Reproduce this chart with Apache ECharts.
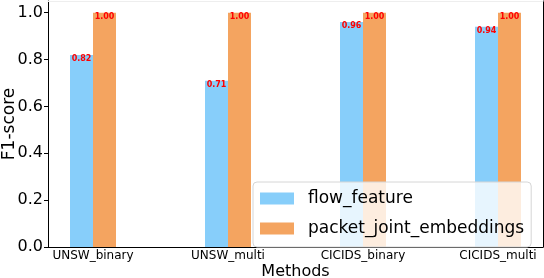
<!DOCTYPE html>
<html>
<head>
<meta charset="utf-8">
<script src="https://cdn.jsdelivr.net/npm/echarts@6/dist/echarts.min.js"></script>
<style>
  html, body { margin: 0; padding: 0; background: #fff; }
  #chart { width: 544px; height: 278px; }
</style>
</head>
<body>
<div id="chart"></div>
<script>
const categories = ['UNSW_binary', 'UNSW_multi', 'CICIDS_binary', 'CICIDS_multi'];
const flowFeature = [0.82, 0.71, 0.96, 0.94];
const packetJointEmbeddings = [1.00, 1.00, 1.00, 1.00];
const yTicks = [0.0, 0.2, 0.4, 0.6, 0.8, 1.0];
const seriesNames = ['flow_feature', 'packet_joint_embeddings'];

const FONT = 'DejaVu Sans';
const chart = echarts.init(document.getElementById('chart'), null, { renderer: 'canvas' });

const catIdx = categories.map((c, i) => i);
const toData = arr => arr.map((v, i) => [catIdx[i], v]);

const labelCfg = {
  show: true,
  position: 'insideTop',
  distance: 0,
  color: '#ff0000',
  fontFamily: FONT,
  fontWeight: 'bold',
  fontSize: 8,
  formatter: p => p.value[1].toFixed(2)
};

chart.setOption({
  animation: false,
  backgroundColor: '#ffffff',
  grid: { left: 48, right: 1, top: 1, bottom: 31, containLabel: false, outerBoundsMode: 'none' },
  legend: {
    data: seriesNames,
    orient: 'vertical',
    left: 253,
    top: 182,
    itemWidth: 34,
    itemHeight: 12,
    itemGap: 13,
    padding: [8, 7, 10, 7],
    backgroundColor: 'rgba(255,255,255,0.8)',
    borderColor: '#d6d6d6',
    borderWidth: 1,
    borderRadius: 4,
    icon: 'rect',
    textStyle: {
      fontFamily: FONT,
      fontSize: 17,
      color: '#000',
      lineHeight: 12,
      padding: [0, 0, 0, 9]
    }
  },
  xAxis: [{
    type: 'value',
    min: -1 / 3,
    max: 10 / 3,
    name: 'Methods',
    nameLocation: 'middle',
    nameGap: 17,
    nameMoveOverlap: false,
    nameTextStyle: { fontFamily: FONT, fontSize: 16, color: '#000', verticalAlign: 'top' },
    axisLine: { show: true, onZero: false, lineStyle: { color: '#000', width: 1 } },
    axisTick: { show: false },
    splitLine: { show: false },
    axisLabel: {
      customValues: catIdx,
      formatter: v => categories[Math.round(v)],
      fontFamily: FONT,
      fontSize: 12,
      color: '#000',
      margin: 3
    }
  }, {
    type: 'value',
    position: 'top',
    min: 0, max: 1,
    axisLine: { show: true, onZero: false, lineStyle: { color: '#eeeeee', width: 1 } },
    axisTick: { show: false },
    axisLabel: { show: false },
    splitLine: { show: false }
  }],
  yAxis: [{
    type: 'value',
    position: 'left',
    min: 0,
    max: 1.05,
    name: 'F1-score',
    nameLocation: 'middle',
    nameGap: 30,
    nameMoveOverlap: false,
    nameTextStyle: { fontFamily: FONT, fontSize: 17, color: '#000' },
    axisLine: { show: true, onZero: false, lineStyle: { color: '#000', width: 1 } },
    axisTick: { show: true, length: 4, customValues: yTicks, lineStyle: { color: '#000' } },
    splitLine: { show: false },
    axisLabel: {
      customValues: yTicks,
      formatter: v => v.toFixed(1),
      fontFamily: FONT,
      fontSize: 16,
      color: '#000',
      margin: 5
    }
  }, {
    type: 'value',
    position: 'right',
    min: 0, max: 1,
    axisLine: { show: true, onZero: false, lineStyle: { color: '#000', width: 1 } },
    axisTick: { show: false },
    axisLabel: { show: false },
    splitLine: { show: false }
  }],
  series: [{
    name: seriesNames[0],
    type: 'bar',
    xAxisIndex: 0,
    yAxisIndex: 0,
    barWidth: 23,
    barGap: '0%',
    itemStyle: { color: '#87CEFA' },
    label: labelCfg,
    data: toData(flowFeature)
  }, {
    name: seriesNames[1],
    type: 'bar',
    xAxisIndex: 0,
    yAxisIndex: 0,
    barWidth: 23,
    barGap: '0%',
    itemStyle: { color: '#F4A460' },
    label: labelCfg,
    data: toData(packetJointEmbeddings)
  }]
});
</script>
</body>
</html>
